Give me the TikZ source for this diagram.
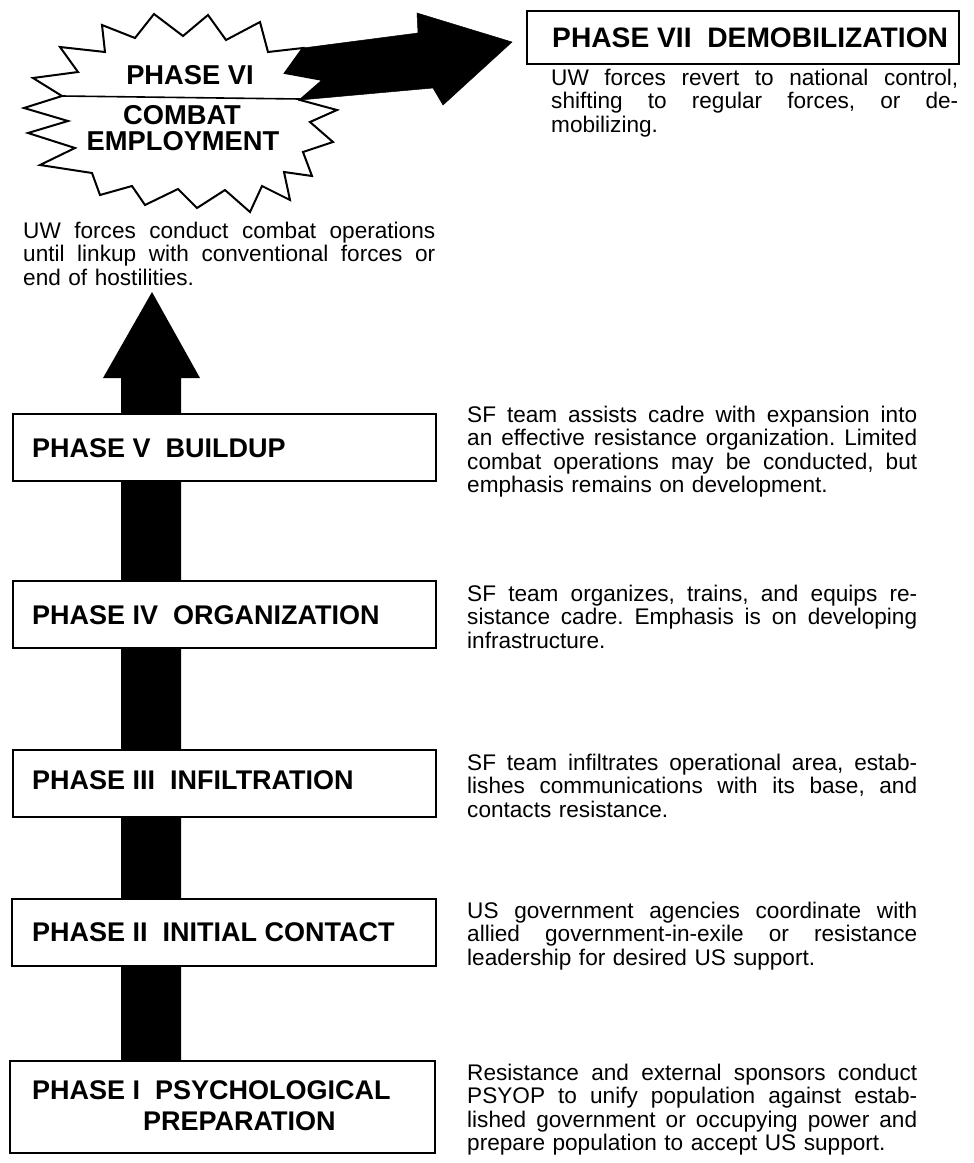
\documentclass[tikz,border=0pt]{standalone}
\usepackage{fontspec}
\setmainfont{Liberation Sans}
\frenchspacing
\newcommand\jline[2]{\leavevmode\hbox to #1{\spaceskip=0pt\xspaceskip=0pt\relax #2}}
\begin{document}
\begin{tikzpicture}[x=1pt,y=-1pt,
  phasebox/.style={draw, line width=1.6pt, fill=white, rectangle, inner sep=0pt, anchor=north west},
  phaselabel/.style={anchor=base west, inner sep=0pt, align=left, font=\fontsize{27}{31}\selectfont\bfseries},
  starlabel/.style={anchor=base, inner sep=0pt, font=\fontsize{27.3}{31}\selectfont\bfseries},
  desctext/.style={anchor=base west, inner sep=0pt, text width=#1, align=left, font=\fontsize{22.6}{23.6}\selectfont},
  desctext/.default=450pt,
  starline/.style={draw, line width=2pt, fill=white, line join=miter},
  bigarrow/.style={fill=black, draw=black, line width=0.5pt}]
\useasboundingbox (0,0) rectangle (974,1163);
\fill[white] (0,0) rectangle (974,1163);

% starburst (Phase VI)
\draw[starline] (154,14) -- (183,36) -- (208,15) -- (226,40) -- (260,22) -- (268,52)
  -- (303,48) -- (285,73) -- (323,80) -- (300,100) -- (337,110) -- (310,122)
  -- (333,142) -- (303,152) -- (312,176) -- (284,172) -- (290,200) -- (262,186)
  -- (250,212) -- (225,190) -- (197,208) -- (178,189) -- (145,205) -- (132,186)
  -- (100,195) -- (92,173) -- (40,165) -- (75,148) -- (28,133) -- (68,121)
  -- (24,108) -- (62,96) -- (33,78) -- (78,72) -- (60,47) -- (105,52)
  -- (102,25) -- (135,38) -- cycle;
\coordinate (sl) at (62,96);
\coordinate (sr) at (300,99);
\draw[line width=1.6pt] (sl) -- (sr);

% arrow from Phase VI to Phase VII
\coordinate (tip7) at (512,42);
\path[bigarrow] (303,48) -- (418,33) -- (417,13) -- (tip7) -- (443,105) -- (433,88)
  -- (300,100) -- (323,80) -- (285,73) -- cycle;

\node[starlabel] (s6a) at (190,84.5) {PHASE VI};
\node[starlabel] (s6b) at (182,124.5) {COMBAT};
\node[starlabel] (s6c) at (183,150) {EMPLOYMENT};

% vertical arrow
\coordinate (tip6) at (152,292);
\fill (121,1060) -- (121,378) -- (103,378) -- (tip6) -- (200,378) -- (181,378) -- (181,1060) -- cycle;

% boxes
\node[phasebox, minimum width=432pt, minimum height=53pt] (p7) at (526,10) {};
\node[phasebox, minimum width=423pt, minimum height=67pt] (p5) at (12,413) {};
\node[phasebox, minimum width=423pt, minimum height=67pt] (p4) at (12,580) {};
\node[phasebox, minimum width=423pt, minimum height=67pt] (p3) at (12,749) {};
\node[phasebox, minimum width=424pt, minimum height=67pt] (p2) at (11,898) {};
\node[phasebox, minimum width=425pt, minimum height=92pt] (p1) at (9,1060) {};

% labels
\node[phaselabel, font=\fontsize{28.2}{31}\selectfont\bfseries] (l7) at (552,47) {PHASE VII\ \ DEMOBILIZATION};
\node[phaselabel] (l5) at (32,457.5) {PHASE V\ \ BUILDUP};
\node[phaselabel] (l4) at (32,624.5) {PHASE IV\ \ ORGANIZATION};
\node[phaselabel] (l3) at (32,789.5) {PHASE III\ \ INFILTRATION};
\node[phaselabel] (l2) at (32,941.5) {PHASE II\ \ INITIAL CONTACT};
\node[phaselabel] (l1) at (32,1130.5) {PHASE I\ \ PSYCHOLOGICAL\\\hspace*{111pt}PREPARATION};

% descriptions
\node[desctext=412pt] (d6) at (23,238) {\jline{412pt}{UW forces conduct combat operations}\\
\jline{412pt}{until linkup with conventional forces or}\\
end of hostilities.};
\node[desctext=407pt] (d7) at (551,85) {\jline{407pt}{UW forces revert to national control,}\\
\jline{407pt}{shifting to regular forces, or de-}\\
mobilizing.};
\node[desctext] (d5) at (467,422) {\jline{450pt}{SF team assists cadre with expansion into}\\
\jline{450pt}{an effective resistance organization. Limited}\\
\jline{450pt}{combat operations may be conducted, but}\\
emphasis remains on development.};
\node[desctext] (d4) at (467,601) {\jline{450pt}{SF team organizes, trains, and equips re-}\\
\jline{450pt}{sistance cadre. Emphasis is on developing}\\
infrastructure.};
\node[desctext] (d3) at (467,770) {\jline{450pt}{SF team infiltrates operational area, estab-}\\
\jline{450pt}{lishes communications with its base, and}\\
contacts resistance.};
\node[desctext] (d2) at (467,918) {\jline{450pt}{US government agencies coordinate with}\\
\jline{450pt}{allied government-in-exile or resistance}\\
leadership for desired US support.};
\node[desctext] (d1) at (467,1080) {\jline{450pt}{Resistance and external sponsors conduct}\\
\jline{450pt}{PSYOP to unify population against estab-}\\
\jline{450pt}{lished government or occupying power and}\\
prepare population to accept US support.};
\end{tikzpicture}
\end{document}
